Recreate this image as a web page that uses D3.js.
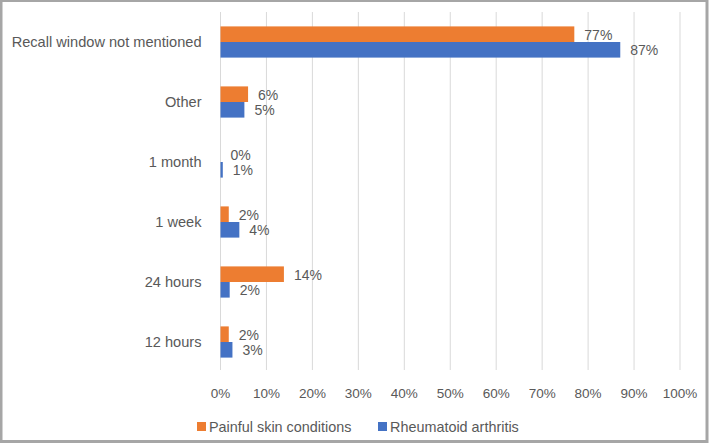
<!DOCTYPE html>
<html>
<head>
<meta charset="utf-8">
<script src="https://cdn.jsdelivr.net/npm/d3@7"></script>
<style>
  body { margin: 0; background: #fff; }
  text { font-family: "Liberation Sans", Arial, sans-serif; fill: #595959; }
</style>
</head>
<body>
<div id="chart"></div>
<script>
// data (percent)
var categories = ["Recall window not mentioned", "Other", "1 month", "1 week", "24 hours", "12 hours"]
var skinValues = [77, 6, 0, 1.8, 13.8, 1.8]
var raValues = [87, 5.2, 0.5, 4.1, 2, 2.6]
var seriesNames = ["Painful skin conditions", "Rheumatoid arthritis"]
var seriesColors = ["#ED7D31", "#4472C4"]
var xTicks = [0, 10, 20, 30, 40, 50, 60, 70, 80, 90, 100]

var width = 709
var height = 444
var margin = {top: 12, right: 29, bottom: 72, left: 220.5}

var svg = d3.select("#chart").append("svg")
  .attr("width", width)
  .attr("height", height)

// frame around the picture
svg.append("rect")
  .attr("x", 1).attr("y", 0.5)
  .attr("width", width - 3).attr("height", height - 3)
  .attr("fill", "none")
  .attr("stroke", "#a6a6a6")
  .attr("stroke-width", 3)

var x = d3.scaleLinear()
  .domain([0, 100])
  .range([margin.left, width - margin.right])

var y = d3.scaleBand()
  .domain(categories)
  .range([margin.top, height - margin.bottom])
  .paddingInner(0.48)
  .paddingOuter(0.24)

var inner = d3.scaleBand()
  .domain(seriesNames)
  .range([0, y.bandwidth()])

// gridlines
svg.append("g")
  .selectAll("line")
  .data(xTicks)
  .enter().append("line")
  .attr("x1", function(d) { return x(d) })
  .attr("x2", function(d) { return x(d) })
  .attr("y1", margin.top)
  .attr("y2", height - margin.bottom - 2)
  .attr("stroke", "#d9d9d9")
  .attr("stroke-width", 1)

// x tick labels
svg.append("g")
  .selectAll("text")
  .data(xTicks)
  .enter().append("text")
  .attr("x", function(d) { return x(d) })
  .attr("y", 398)
  .attr("text-anchor", "middle")
  .attr("font-size", 13.5)
  .text(function(d) { return d + "%" })

// category labels
svg.append("g")
  .selectAll("text")
  .data(categories)
  .enter().append("text")
  .attr("x", margin.left - 19)
  .attr("y", function(d) { return y(d) + y.bandwidth() / 2 })
  .attr("dy", "0.35em")
  .attr("text-anchor", "end")
  .attr("font-size", 14.6)
  .text(function(d) { return d })

var rows = categories.map(function(c, i) {
  return [
    {cat: c, series: seriesNames[0], value: skinValues[i], color: seriesColors[0]},
    {cat: c, series: seriesNames[1], value: raValues[i], color: seriesColors[1]}
  ]
}).flat()

svg.append("g")
  .selectAll("rect")
  .data(rows)
  .enter().append("rect")
  .attr("x", x(0))
  .attr("y", function(d) { return y(d.cat) + inner(d.series) })
  .attr("width", function(d) { return x(d.value) - x(0) })
  .attr("height", inner.bandwidth())
  .attr("fill", function(d) { return d.color })

svg.append("g")
  .selectAll("text")
  .data(rows)
  .enter().append("text")
  .attr("x", function(d) { return x(d.value) + 10 })
  .attr("y", function(d) { return y(d.cat) + inner(d.series) + inner.bandwidth() / 2 + 0.5 })
  .attr("dy", "0.35em")
  .attr("font-size", 14)
  .text(function(d) { return Math.round(d.value) + "%" })

// legend
var legend = svg.append("g")
  .selectAll("g")
  .data(seriesNames)
  .enter().append("g")
  .attr("transform", function(d, i) { return "translate(" + [197, 378][i] + ",422)" })

legend.append("rect")
  .attr("width", 9).attr("height", 9)
  .attr("fill", function(d, i) { return seriesColors[i] })

legend.append("text")
  .attr("x", 12)
  .attr("y", 4.5)
  .attr("dy", "0.35em")
  .attr("font-size", 14.4)
  .text(function(d) { return d })
</script>
</body>
</html>
